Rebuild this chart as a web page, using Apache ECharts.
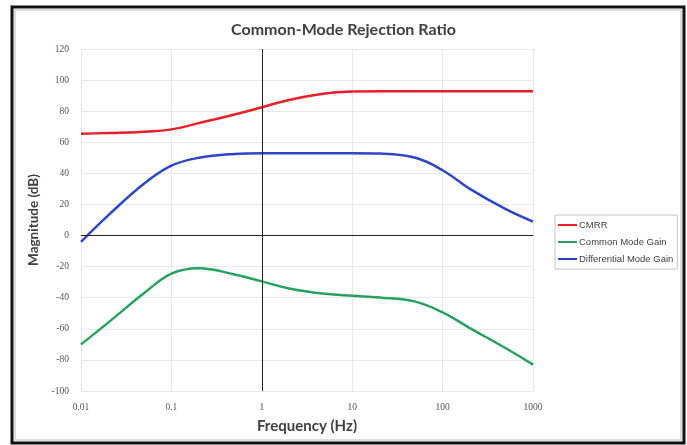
<!DOCTYPE html>
<html>
<head>
<meta charset="utf-8">
<script src="https://cdn.jsdelivr.net/npm/echarts@6/dist/echarts.min.js"></script>
<style>
  html, body { margin: 0; padding: 0; background: #ffffff; }
  #chart { width: 687px; height: 445px; }
</style>
</head>
<body>
<div id="chart"></div>
<script>
// Frequency points (Hz) and magnitudes (dB)
const frequencies = [0.01, 0.02, 0.05, 0.1, 0.2, 0.5, 1, 2, 5, 10, 20, 50, 100, 200, 500, 1000];
const cmrr        = [65.5, 65.9, 66.8, 68.3, 72.3, 77.9, 82.5, 87.2, 91.4, 92.6, 92.8, 92.8, 92.8, 92.8, 92.8, 92.8];
const commonGain  = [-70, -56, -37, -24.5, -21, -25, -29.5, -34, -37.5, -38.8, -39.8, -42.5, -49.5, -59.5, -72.5, -83];
const diffGain    = [-4, 13, 33.5, 45, 50, 52.5, 53, 53, 53, 53, 52.7, 50, 42, 30, 17, 9];

const seriesNames = ['CMRR', 'Common Mode Gain', 'Differential Mode Gain'];
const xTickLabels = ['0.01', '0.1', '1', '10', '100', '1000'];
const xTickValues = [0.01, 0.1, 1, 10, 100, 1000];

const pair = (ys) => frequencies.map((f, i) => [f, ys[i]]);

const chart = echarts.init(document.getElementById('chart'), null, { renderer: 'canvas' });

const labelFont = 'Liberation Serif';
const titleFont = 'Lato';

chart.setOption({
  animation: false,
  backgroundColor: '#ffffff',
  title: {
    text: 'Common-Mode Rejection Ratio',
    left: 'center',
    top: 17,
    textStyle: { fontFamily: titleFont, fontWeight: 'bold', fontSize: 16, color: '#404040' }
  },
  graphic: [
    { type: 'rect', shape: { x: 12, y: 7, width: 672, height: 436 }, style: { fill: null, stroke: '#111', lineWidth: 3 }, z: 100 },
    { type: 'rect', shape: { x: 15, y: 10, width: 666, height: 430 }, style: { fill: null, stroke: '#d4d4d4', lineWidth: 1.5 }, z: 100 }
  ],
  legend: {
    orient: 'vertical',
    left: 555,
    top: 215,
    data: seriesNames,
    icon: 'rect',
    itemWidth: 19,
    itemHeight: 2,
    itemGap: 7,
    padding: [5, 4, 5, 3],
    borderColor: '#c4c4c4',
    borderWidth: 1,
    textStyle: { fontFamily: 'Liberation Sans', fontSize: 9.5, color: '#404040', padding: [0, 0, 0, -3] }
  },
  grid: { left: 81, right: 154, top: 49, bottom: 54 },
  xAxis: {
    type: 'log',
    logBase: 10,
    min: 0.01,
    max: 1000,
    name: 'Frequency (Hz)',
    nameLocation: 'middle',
    nameGap: 28,
    nameTextStyle: { fontFamily: titleFont, fontWeight: 'bold', fontSize: 15, color: '#404040' },
    axisLine: { show: false },
    axisTick: { show: false },
    axisLabel: {
      fontFamily: labelFont, fontSize: 9.5, color: '#555', margin: 11,
      formatter: (v) => {
        const i = xTickValues.findIndex(t => Math.abs(Math.log10(t) - Math.log10(v)) < 1e-6);
        return i >= 0 ? xTickLabels[i] : '';
      }
    },
    splitLine: { show: true, lineStyle: { color: '#e8e8e8', width: 1 } }
  },
  yAxis: {
    type: 'value',
    min: -100,
    max: 120,
    interval: 20,
    name: 'Magnitude (dB)',
    nameLocation: 'middle',
    nameGap: 37,
    nameTextStyle: { fontFamily: titleFont, fontWeight: 'bold', fontSize: 13.5, color: '#404040' },
    axisLine: { show: false },
    axisTick: { show: false },
    axisLabel: { fontFamily: labelFont, fontSize: 9.5, color: '#555', margin: 12 },
    splitLine: { show: true, lineStyle: { color: '#e8e8e8', width: 1 } }
  },
  series: [
    {
      name: seriesNames[0],
      type: 'line',
      data: pair(cmrr),
      smooth: 0.5,
      showSymbol: false,
      lineStyle: { color: '#e8202a', width: 2.5 },
      itemStyle: { color: '#e8202a' },
      z: 3,
      markLine: {
        silent: true,
        symbol: 'none',
        label: { show: false },
        lineStyle: { color: '#222', width: 1, type: 'solid' },
        data: [{ xAxis: 1 }, { yAxis: 0 }]
      }
    },
    {
      name: seriesNames[1],
      type: 'line',
      data: pair(commonGain),
      smooth: 0.4,
      showSymbol: false,
      lineStyle: { color: '#2a9f62', width: 2.5 },
      itemStyle: { color: '#2a9f62' },
      z: 3
    },
    {
      name: seriesNames[2],
      type: 'line',
      data: pair(diffGain),
      smooth: 0.4,
      showSymbol: false,
      lineStyle: { color: '#2f45c8', width: 2.5 },
      itemStyle: { color: '#2f45c8' },
      z: 3
    }
  ]
});
</script>
</body>
</html>
